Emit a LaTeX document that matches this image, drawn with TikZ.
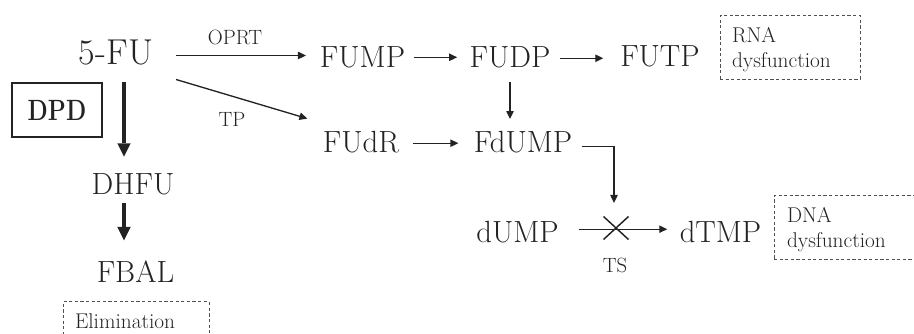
\documentclass[tikz,border=0pt]{standalone}
\usetikzlibrary{arrows.meta,calc,shapes.misc}
\definecolor{ink}{RGB}{35,35,35}
\definecolor{dashink}{RGB}{80,80,80}
\tikzset{
  x=0.75pt, y=-0.75pt,
  every node/.style={inner sep=0pt, outer sep=0pt, text=ink},
  chem/.style={font=\fontsize{23}{27}\selectfont, anchor=base},
  bigchem/.style={font=\fontsize{27}{32}\selectfont, anchor=base},
  enz/.style={font=\fontsize{15.5}{18}\selectfont, anchor=base},
  note/.style={font=\fontsize{16}{18.75}\selectfont, anchor=base west, align=left},
  dashbox/.style={draw=dashink, line width=0.75pt, dash pattern=on 2.4pt off 1.8pt, anchor=north west},
  solidbox/.style={draw=ink, line width=0.9pt},
  arr/.style={draw=ink, line width=1pt, -{Triangle[length=6pt,width=5.5pt]}},
  fat/.style={draw=ink, line width=3.5pt, -{Triangle[length=10pt,width=10pt,line width=0pt]}},
}
\begin{document}
\begin{tikzpicture}
\useasboundingbox (0,0) rectangle (914,334);
\clip (0,0) rectangle (914,334);

% compounds
\node[bigchem] (FU) at (116,65) {5-FU};
\node[chem] (FUMP) at (362.5,68) {FUMP};
\node[chem] (FUDP) at (510,68) {FUDP};
\node[chem] (FUTP) at (660,67) {FUTP};
\node[chem] (FUdR) at (361,153) {FUdR};
\node[chem] (FdUMP) at (523,153) {FdUMP};
\node[chem] (dUMP) at (517.5,243) {dUMP};
\node[chem] (dTMP) at (720.5,243) {dTMP};
\node[chem] (DHFU) at (133,195) {DHFU};
\node[chem] (FBAL) at (135.5,283) {FBAL};

% enzymes
\node[enz] (oprt) at (235,45) {OPRT};
\node[enz] (tp) at (232,127) {TP};
\node[enz] (ts) at (615,273) {TS};
\node[solidbox, minimum width=67.5pt, minimum height=40.5pt] (dpd) at (57,110)
  {\scalebox{0.8}[1]{\fontsize{22}{26}\selectfont\bfseries DPD}};

% outcome boxes
\node[dashbox, minimum width=105pt, minimum height=47.5pt] (rnabox) at (720,15.7) {};
\node[note, text width=85pt] (rna) at ($(rnabox.north west)+(12,27.3)$) {RNA\\dysfunction};
\node[dashbox, minimum width=107pt, minimum height=48pt] (dnabox) at (774,196) {};
\node[note, text width=85pt] (dna) at ($(dnabox.north west)+(13,27)$) {DNA\\dysfunction};
\node[dashbox, minimum width=109.5pt, minimum height=40pt] (elimbox) at (63,302) {};
\node[note, text width=90pt] (elim) at ($(elimbox.north west)+(12,27)$) {Elimination};

% blocked thymidylate synthase step
\node[cross out, draw=ink, line width=1.1pt, minimum width=18.75pt, minimum height=17.25pt] (block) at (616,228) {};

% anabolic arrows
\coordinate (a1) at ($(FU.east)+(23,2.5)$);
\draw[arr] (a1) -- ($(a1 -| FUMP.west)+(-14,0)$);
\draw[arr] ($(FU.east)+(23,26.5)$) -- ($(FUdR.west)+(-15.5,-24)$);
\coordinate (a3) at ($(FUMP.east)+(8.5,-0.5)$);
\draw[arr] (a3) -- ($(a3 -| FUDP.west)+(-12.5,0)$);
\coordinate (a4) at ($(FUDP.east)+(9.5,0.5)$);
\draw[arr] (a4) -- ($(a4 -| FUTP.west)+(-17,0)$);
\coordinate (a5) at ($(FUDP.south)+(0,14)$);
\draw[arr] (a5) -- ($(a5 |- FdUMP.north)+(0,-12.7)$);
\coordinate (a6) at ($(FUdR.east)+(13.7,0.6)$);
\draw[arr] (a6) -- ($(a6 -| FdUMP.west)+(-15.5,0)$);
\draw[arr] ($(FdUMP.east)+(9.5,3.6)$) -| ($(block.north)+(-2,-13.5)$);
\coordinate (a8) at ($(dUMP.east)+(20,-3.4)$);
\draw[arr] (a8) -- ($(a8 -| dTMP.west)+(-12.5,0)$);

% catabolic arrows
\coordinate (f1) at ($(FU.south)+(8,16)$);
\draw[fat] (f1) -- ($(f1 |- DHFU.north)+(0,-17.4)$);
\coordinate (f2) at ($(DHFU.south)+(-9,8)$);
\draw[fat] (f2) -- ($(f2 |- FBAL.north)+(0,-21)$);
\end{tikzpicture}
\end{document}
